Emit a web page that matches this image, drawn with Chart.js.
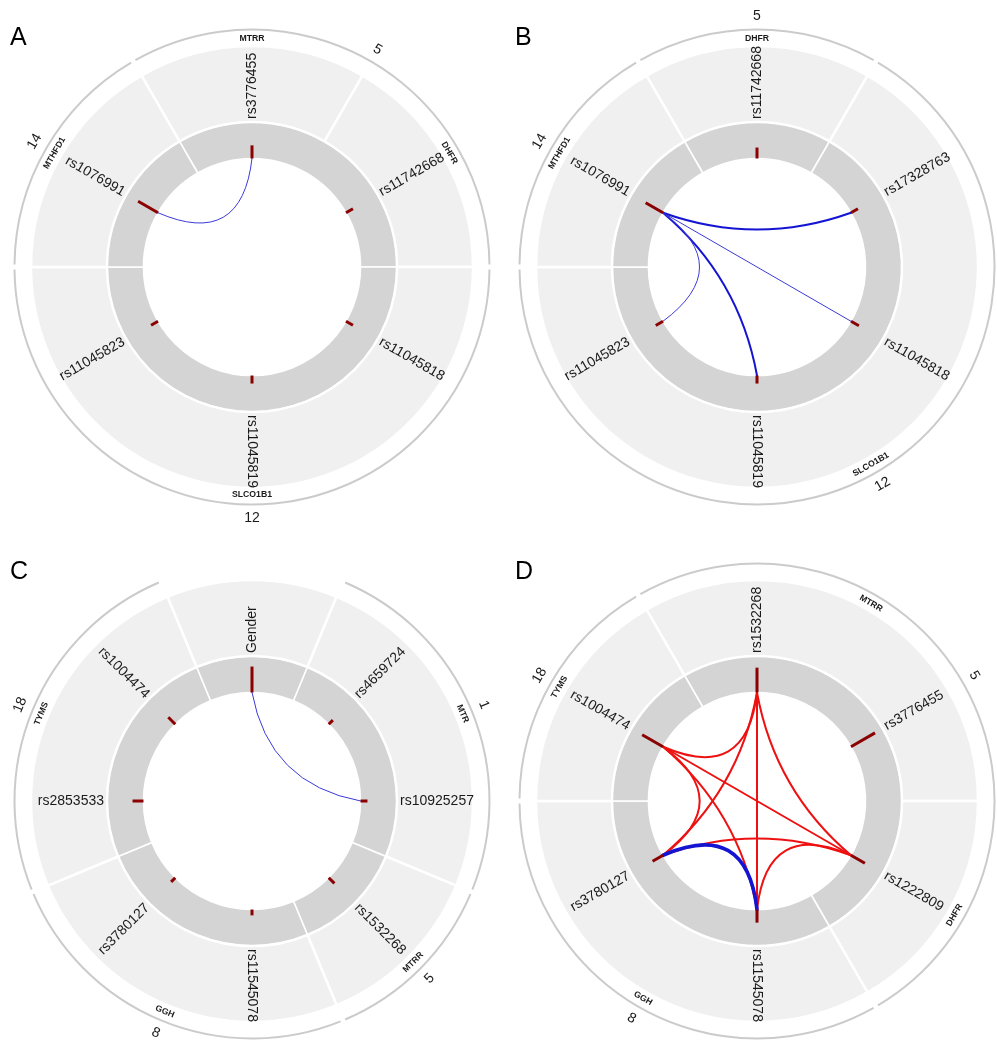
<!DOCTYPE html>
<html>
<head>
<meta charset="utf-8">
<script src="https://cdn.jsdelivr.net/npm/chart.js@4.4.1/dist/chart.umd.min.js"></script>
<style>
body { margin: 0; background: #fff; width: 997px; height: 1055px; position: relative; overflow: hidden; }
canvas { position: absolute; }
</style>
</head>
<body>
<canvas id="cA" width="500" height="530" style="left:0;top:0"></canvas>
<canvas id="cB" width="492" height="530" style="left:505px;top:0"></canvas>
<canvas id="cC" width="500" height="521" style="left:0;top:534px"></canvas>
<canvas id="cD" width="492" height="521" style="left:505px;top:534px"></canvas>
<script>
// panel A
const snpsA = ['rs3776455', 'rs11742668', 'rs11045818', 'rs11045819', 'rs11045823', 'rs1076991'];
const genesA = ['MTRR', 'DHFR', 'SLCO1B1', 'MTHFD1'];
const geneSizeA = [1, 1, 3, 1];
const chromsA = ['5', '12', '14'];
const chromSizeA = [2, 3, 1];
const tickA = [3.6, 2.2, 2.2, 2.2, 2.2, 6.3];
const linkFromA = [5];
const linkToA = [0];
const linkGainA = [-0.5];

// panel B
const snpsB = ['rs11742668', 'rs17328763', 'rs11045818', 'rs11045819', 'rs11045823', 'rs1076991'];
const genesB = ['DHFR', 'SLCO1B1', 'MTHFD1'];
const geneSizeB = [1, 4, 1];
const chromsB = ['5', '12', '14'];
const chromSizeB = [1, 4, 1];
const tickB = [3.0, 2.2, 2.5, 2.2, 2.3, 5.5];
const linkFromB = [5, 5, 5, 5];
const linkToB = [1, 2, 3, 4];
const linkGainB = [-1.0, -0.5, -1.0, -0.5];

// panel C
const snpsC = ['Gender', 'rs4659724', 'rs10925257', 'rs1532268', 'rs11545078', 'rs3780127', 'rs2853533', 'rs1004474'];
const genesC = ['', 'MTR', 'MTRR', 'GGH', 'TYMS'];
const geneSizeC = [1, 2, 1, 2, 2];
const chromsC = ['', '1', '5', '8', '18'];
const chromSizeC = [1, 2, 1, 2, 2];
const tickC = [7.1, 1.6, 1.9, 2.2, 1.6, 1.6, 3.0, 2.7];
const linkFromC = [0];
const linkToC = [2];
const linkGainC = [-0.5];

// panel D
const snpsD = ['rs1532268', 'rs3776455', 'rs1222809', 'rs11545078', 'rs3780127', 'rs1004474'];
const genesD = ['MTRR', 'DHFR', 'GGH', 'TYMS'];
const geneSizeD = [2, 1, 2, 1];
const chromsD = ['5', '8', '18'];
const chromSizeD = [3, 2, 1];
const tickD = [6.8, 7.6, 4.4, 3.6, 3.3, 6.6];
const linkFromD = [0, 0, 0, 0, 5, 5, 5, 4, 2, 4];
const linkToD = [5, 4, 3, 2, 2, 3, 4, 2, 3, 3];
const linkGainD = [1, 1, 1, 1, 1, 1, 1, 1, 1, -1.8];

const TAU = Math.PI * 2;
const norm = a => ((a % TAU) + TAU) % TAU;
const font = 'Liberation Sans, Arial, sans-serif';


function radialText(ctx, cx, cy, ang, r, txt) {
    let th = norm(ang + Math.PI / 2);
    if (th > TAU - 1e-6) th = 0;
    ctx.save();
    ctx.translate(cx, cy);
    if (th <= Math.PI + 1e-6) {
        ctx.rotate(ang);
        ctx.textAlign = 'left';
        ctx.fillText(txt, r, 0);
    } else {
        ctx.rotate(ang + Math.PI);
        ctx.textAlign = 'right';
        ctx.fillText(txt, -r, 0);
    }
    ctx.restore();
}


function tangentText(ctx, cx, cy, ang, r, txt) {
    const th = norm(ang + Math.PI / 2);
    ctx.save();
    ctx.translate(cx, cy);
    ctx.textAlign = 'center';
    if (th > Math.PI / 2 + 1e-6 && th < 1.5 * Math.PI - 1e-6) {
        ctx.rotate(th - Math.PI);
        ctx.fillText(txt, 0, r);
    } else {
        ctx.rotate(th);
        ctx.fillText(txt, 0, -r);
    }
    ctx.restore();
}


function makePanel(id, letter, snps, genes, geneSize, chroms, chromSize, ticks, linkFrom, linkTo, linkGain) {
    const circos = {
        id: 'circos' + letter,
        afterDatasetsDraw(chart) {
            const ctx = chart.ctx;
            const zone = chart.getDatasetMeta(0).data;
            const geneArcs = chart.getDatasetMeta(1).data;
            const chromArcs = chart.getDatasetMeta(2).data;
            const snpArcs = chart.getDatasetMeta(3).data;
            const mid = a => (a.startAngle + a.endAngle) / 2;
            const cx = chromArcs[0].x, cy = chromArcs[0].y;
            const rIn = chromArcs[0].innerRadius;
            const band = chromArcs[0].outerRadius - rIn;
            const rLight = geneArcs[0].outerRadius;
            const rOut = zone[0].outerRadius;

            ctx.save();

            // chromosome ring
            ctx.strokeStyle = '#cbcbcb';
            ctx.lineWidth = 2;
            chromArcs.forEach((a, i) => {
                if (!chroms[i]) return;
                const g = 2.5 / rOut;
                ctx.beginPath();
                ctx.arc(cx, cy, rOut - 1, a.startAngle + g, a.endAngle - g);
                ctx.stroke();
            });

            // links
            ctx.lineCap = 'round';
            linkFrom.forEach((f, k) => {
                const a1 = mid(snpArcs[f]), a2 = mid(snpArcs[linkTo[k]]);
                const r0 = snpArcs[f].innerRadius;
                const x1 = cx + r0 * Math.cos(a1), y1 = cy + r0 * Math.sin(a1);
                const x2 = cx + r0 * Math.cos(a2), y2 = cy + r0 * Math.sin(a2);
                let mx = Math.cos(a1) + Math.cos(a2), my = Math.sin(a1) + Math.sin(a2);
                const len = Math.hypot(mx, my);
                const h = 0.22 * r0 * Math.abs(Math.sin(a2 - a1));
                let qx = cx, qy = cy;
                if (len > 1e-6) {
                    qx = cx + mx / len * h;
                    qy = cy + my / len * h;
                }
                const g = linkGain[k];
                ctx.strokeStyle = g > 0 ? '#ee1111' : (Math.abs(g) > 0.7 ? '#1414d2' : '#3a3ad6');
                ctx.lineWidth = Math.abs(g) * 2;
                ctx.beginPath();
                ctx.moveTo(x1, y1);
                ctx.quadraticCurveTo(qx, qy, x2, y2);
                ctx.stroke();
            });

            // ticks
            ctx.lineCap = 'butt';
            ctx.strokeStyle = '#8b0000';
            ctx.lineWidth = 3;
            snpArcs.forEach((a, i) => {
                const ang = mid(a);
                const r1 = a.innerRadius + ticks[i] / 10 * band;
                ctx.beginPath();
                ctx.moveTo(cx + a.innerRadius * Math.cos(ang), cy + a.innerRadius * Math.sin(ang));
                ctx.lineTo(cx + r1 * Math.cos(ang), cy + r1 * Math.sin(ang));
                ctx.stroke();
            });

            // labels
            ctx.fillStyle = '#1a1a1a';
            ctx.textBaseline = 'middle';
            ctx.font = '14px ' + font;
            snpArcs.forEach((a, i) => radialText(ctx, cx, cy, mid(a), chromArcs[0].outerRadius + 3, snps[i]));

            ctx.font = 'bold 8.7px ' + font;
            geneArcs.forEach((a, i) => {
                if (genes[i]) tangentText(ctx, cx, cy, mid(a), rLight + 7, genes[i]);
            });

            ctx.font = '14px ' + font;
            chromArcs.forEach((a, i) => {
                if (chroms[i]) tangentText(ctx, cx, cy, mid(a), rOut + 12.5, chroms[i]);
            });

            ctx.textAlign = 'left';
            ctx.textBaseline = 'alphabetic';
            ctx.fillStyle = '#000';
            ctx.font = '25px ' + font;
            ctx.fillText(letter, 10, 45);

            ctx.restore();
        }
    };

    const canvas = document.getElementById(id);
    const W = canvas.width, H = canvas.height;

    new Chart(canvas, {
        type: 'doughnut',
        data: {
            labels: snps,
            datasets: [
                {
                    data: chromSize,
                    weight: 17.5,
                    backgroundColor: 'rgba(0,0,0,0)',
                    borderWidth: 0,
                    hoverBorderWidth: 0
                },
                {
                    data: geneSize,
                    weight: 76,
                    backgroundColor: '#f0f0f0',
                    borderColor: '#ffffff',
                    borderWidth: 2.5
                },
                {
                    data: chromSize,
                    weight: 36.5,
                    backgroundColor: '#d4d4d4',
                    borderColor: '#ffffff',
                    borderWidth: 1.6
                },
                {
                    data: snps.map(() => 1),
                    weight: 0,
                    backgroundColor: 'rgba(0,0,0,0)',
                    borderWidth: 0
                }
            ]
        },
        options: {
            responsive: false,
            animation: false,
            events: [],
            rotation: -180 / snps.length,
            circumference: 360,
            cutout: '45.5%',
            hoverOffset: 0,
            layout: {
                padding: { left: 13.5, top: 28.5, right: W - 252 - 238.5, bottom: H - 267 - 238.5 }
            },
            plugins: {
                legend: { display: false },
                tooltip: { enabled: false }
            }
        },
        plugins: [circos]
    });
}


makePanel('cA', 'A', snpsA, genesA, geneSizeA, chromsA, chromSizeA, tickA, linkFromA, linkToA, linkGainA);
makePanel('cB', 'B', snpsB, genesB, geneSizeB, chromsB, chromSizeB, tickB, linkFromB, linkToB, linkGainB);
makePanel('cC', 'C', snpsC, genesC, geneSizeC, chromsC, chromSizeC, tickC, linkFromC, linkToC, linkGainC);
makePanel('cD', 'D', snpsD, genesD, geneSizeD, chromsD, chromSizeD, tickD, linkFromD, linkToD, linkGainD);
</script>
</body>
</html>
